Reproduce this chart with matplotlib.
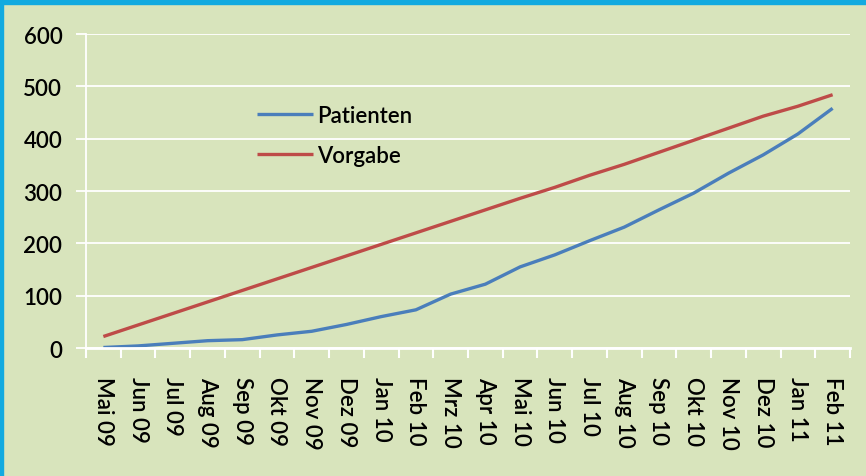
import matplotlib.pyplot as plt
from matplotlib.patches import Rectangle
import numpy as np

plt.rcParams['font.family'] = ['Lato', 'DejaVu Sans']
plt.rcParams['font.weight'] = 'semibold'

# Monate Mai 2009 - Februar 2011
monate = ["Mai 09", "Jun 09", "Jul 09", "Aug 09", "Sep 09", "Okt 09", "Nov 09",
          "Dez 09", "Jan 10", "Feb 10", "Mrz 10", "Apr 10", "Mai 10", "Jun 10",
          "Jul 10", "Aug 10", "Sep 10", "Okt 10", "Nov 10", "Dez 10", "Jan 11",
          "Feb 11"]
patienten = [1, 4, 9, 14, 16, 25, 32, 45, 60, 73, 103, 122, 155, 178, 205, 231,
             264, 296, 334, 369, 409, 458]
vorgabe = [22, 44, 66, 88, 110, 132, 154, 176, 198, 220, 242, 264, 286, 307,
           330, 351, 374, 397, 420, 443, 462, 484]

bg = '#d8e4bc'
fig = plt.figure(figsize=(8.66, 4.77), dpi=100, facecolor=bg)
ax = fig.add_axes([0.0993, 0.2683, 0.8822, 0.6583])
ax.set_facecolor(bg)

x = np.arange(len(monate))
ax.plot(x, patienten, color='#4a7ebb', lw=2.4, label='Patienten', solid_capstyle='butt')
ax.plot(x, vorgabe, color='#be4b48', lw=2.4, label='Vorgabe', solid_capstyle='butt')

ax.set_ylim(0, 600)
ax.set_yticks(range(0, 601, 100))
ax.set_xlim(-0.5, len(monate) - 0.5)
ax.set_xticks(x)
ax.set_xticklabels(monate, rotation=270, ha='center', va='top')
ax.set_xticks(np.arange(-0.5, len(monate)), minor=True)

ax.grid(axis='y', color='white', lw=1.3)
ax.set_axisbelow(True)
for s in ['top', 'right']:
    ax.spines[s].set_visible(False)
ax.spines['left'].set_color('white')
ax.spines['left'].set_linewidth(1.3)
ax.spines['bottom'].set_color('white')
ax.spines['bottom'].set_linewidth(2)

ax.tick_params(axis='y', colors='white', length=7, width=1.3, labelcolor='black',
               labelsize=16, pad=10)
ax.tick_params(axis='x', which='major', length=0, labelsize=16, pad=20)
ax.tick_params(axis='x', which='minor', colors='white', length=7, width=1.5)

ax.legend(loc='center left', bbox_to_anchor=(0.2095, 0.677), frameon=False,
          fontsize=16, handlelength=2.5, handletextpad=0.2, labelspacing=0.85,
          borderpad=0)

# blauer Rahmen oben und links
fig.patches.append(Rectangle((0, 1 - 5 / 477), 1, 5 / 477, transform=fig.transFigure,
                             color='#12aae0', zorder=10))
fig.patches.append(Rectangle((0, 0), 3 / 866, 1, transform=fig.transFigure,
                             color='#12aae0', zorder=10))

fig.savefig('out.png', dpi=100, facecolor=bg)
